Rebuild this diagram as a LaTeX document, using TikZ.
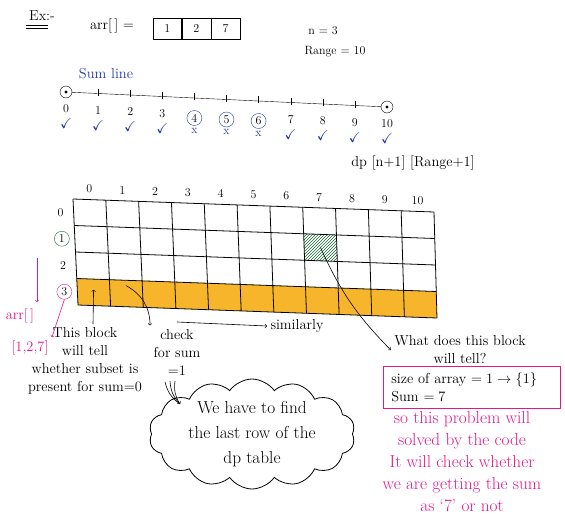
\documentclass[tikz,border=0pt]{standalone}
\usepackage{amssymb}
\usepackage{xcolor}
\usetikzlibrary{calc,positioning,patterns,shapes.symbols}

\definecolor{bluepen}{HTML}{2339A6}
\definecolor{pinkpen}{HTML}{E3168C}
\definecolor{greenpen}{HTML}{1D6A34}
\definecolor{marker}{HTML}{F7B52C}

\tikzset{
  cellbox/.style={draw,minimum width=28.7pt,minimum height=21pt,inner sep=0pt},
  ringed/.style={circle,draw,inner sep=1pt,minimum size=15pt},
  notes/.style={align=center,font=\Large},
  bignotes/.style={align=center,font=\LARGE},
  penarrow/.style={->,semithick},
  pinkarrow/.style={->,semithick,pinkpen},
}

\begin{document}
\begin{tikzpicture}[x=1pt,y=-1pt,font=\large]
\useasboundingbox (0,0) rectangle (565,517);

\node[font=\Large] (ex) at (42,16) {Ex:-};
\draw ([yshift=-1pt]ex.south west) -- ([yshift=-1pt,xshift=-10pt]ex.south east);
\draw ([yshift=-3.5pt]ex.south west) -- ([yshift=-3.5pt,xshift=-10pt]ex.south east);

\node[font=\Large] (arr) at (112,26) {arr[\,] =};
\node[cellbox] (a1) at (167.3,28.5) {1};
\node[cellbox,right=0pt of a1] (a2) {2};
\node[cellbox,right=0pt of a2] (a3) {7};

\node (nval) at (323,31) {n = 3};
\node (range) at (335,52) {Range = 10};

\node[bluepen,font=\Large] (sumline) at (106,74) {Sum line};
\node[circle,draw,minimum size=12pt,inner sep=0pt] (s0) at (66,92) {};
\node[circle,draw,minimum size=12pt,inner sep=0pt] (s10) at (387,107) {};
\fill (s0) circle (1.6);
\fill (s10) circle (1.6);
\draw (s0) -- (s10);
\foreach \i in {1,...,9}
  \draw ($(s0)!\i/10!(s10)$) +(0,-5) -- +(0,2);
\foreach \i in {0,1,2,3,7,8,9,10} {
  \node[yshift=-17pt,inner sep=0pt] (v\i) at ($(s0)!\i/10!(s10)$) {\i};
  \node[yshift=-32pt,inner sep=0pt,bluepen,font=\Large] (ok\i) at ($(s0)!\i/10!(s10)$) {\checkmark};
}
\foreach \i in {4,5,6} {
  \node[ringed,draw=bluepen,yshift=-20pt] (v\i) at ($(s0)!\i/10!(s10)$) {\i};
  \node[bluepen,inner sep=0pt,below=2pt of v\i] (no\i) {x};
}

\node[font=\Large] (dp) at (413,163) {dp [n+1] [Range+1]};

\coordinate (tl) at (73,199);
\coordinate (tr) at (434,212);
\coordinate (bl) at (78,305);
\coordinate (br) at (437,318);
\foreach \i in {0,...,11} {
  \coordinate (t\i) at ($(tl)!\i/11!(tr)$);
  \coordinate (b\i) at ($(bl)!\i/11!(br)$);
}
\foreach \i [evaluate=\i as \j using int(\i+1)] in {0,...,10} {
  \coordinate (m\i) at ($(t\i)!.5!(t\j)$);
  \coordinate (n\i) at ($(b\i)!.5!(b\j)$);
  \node[anchor=south,yshift=3pt] (c\i) at (m\i) {\i};
}
\fill[marker] ($(t0)!.75!(b0)$) -- ($(t11)!.75!(b11)$) -- (b11) -- (b0) -- cycle;
\fill[pattern=north east lines,pattern color=greenpen]
  ($(t7)!.25!(b7)$) -- ($(t8)!.25!(b8)$) -- ($(t8)!.5!(b8)$) -- ($(t7)!.5!(b7)$) -- cycle;
\foreach \i in {0,...,11}
  \draw[thick] (t\i) -- (b\i);
\foreach \r in {0,...,4}
  \draw[thick] ($(t0)!\r/4!(b0)$) -- ($(t11)!\r/4!(b11)$);

\node[xshift=-13pt] (r0) at ($(t0)!.125!(b0)$) {0};
\node[ringed,draw=greenpen,xshift=-13pt] (r1) at ($(t0)!.375!(b0)$) {1};
\node[xshift=-13pt] (r2) at ($(t0)!.625!(b0)$) {2};
\node[ringed,draw=pinkpen,xshift=-13pt] (r3) at ($(t0)!.875!(b0)$) {3};

\coordinate (pktop) at (37,258);
\coordinate (pkend) at (37,302);
\draw[pinkarrow] (pktop) -- (pkend);
\node[pinkpen,font=\Large] (arrname) at (20,316) {arr[\,]};
\node[pinkpen,font=\Large] (arrvals) at (30,348) {[1,2,7]};
\draw[pinkarrow] (r3.south) -- (arrvals.north east);

\node[notes] (blk) at (85,361) {This block\\will tell\\whether subset is\\present for sum=0};
\draw[penarrow] ([xshift=8pt]blk.north) -- ($(m0)!.85!(n0)$);

\node[notes] (chk) at (177,352) {check\\for sum\\=1};
\draw[penarrow] ($(m1)!.8!(n1)$) to[bend left=30] (chk.north west);

\node[notes] (sim) at (297,326) {similarly};
\coordinate (simfrom) at (177,322);
\draw[penarrow] (simfrom) -- (sim.west);

\node[notes] (qn) at (460,350) {What does this block\\will tell?};
\draw[penarrow] ($(m7)!.375!(n7)$) to[bend right=10] (qn.west);

\node[draw=pinkpen,semithick,anchor=north west,minimum width=177pt,minimum height=42pt,
  inner xsep=8pt,text width=161pt,align=left,font=\Large] (szbox) at (383,366)
  {size of array $=1\rightarrow\{1\}$\\Sum $=7$};

\node[bignotes,pinkpen] (sol) at (462,462)
  {so this problem will\\solved by the code\\It will check whether\\we are getting the sum\\as `7' or not};

\node[cloud,draw,thick,cloud puffs=14,cloud puff arc=110,cloud ignores aspect,minimum width=206pt,minimum height=110pt] (bubble) at (252,434) {};
\node[bignotes] (cloudtxt) at (252,434) {We have to find\\[3pt]the last row of the\\[3pt]dp table};
\coordinate (talk) at ($(bubble.center)+(-72,-30)$);
\draw[semithick] ($(bubble.center)+(-87,-52)$) to[bend right=20] (talk);
\draw[semithick] ($(bubble.center)+(-82,-53)$) to[bend right=20] (talk);
\draw[penarrow] ($(bubble.center)+(-77,-53)$) to[bend right=20] (talk);

\end{tikzpicture}
\end{document}
